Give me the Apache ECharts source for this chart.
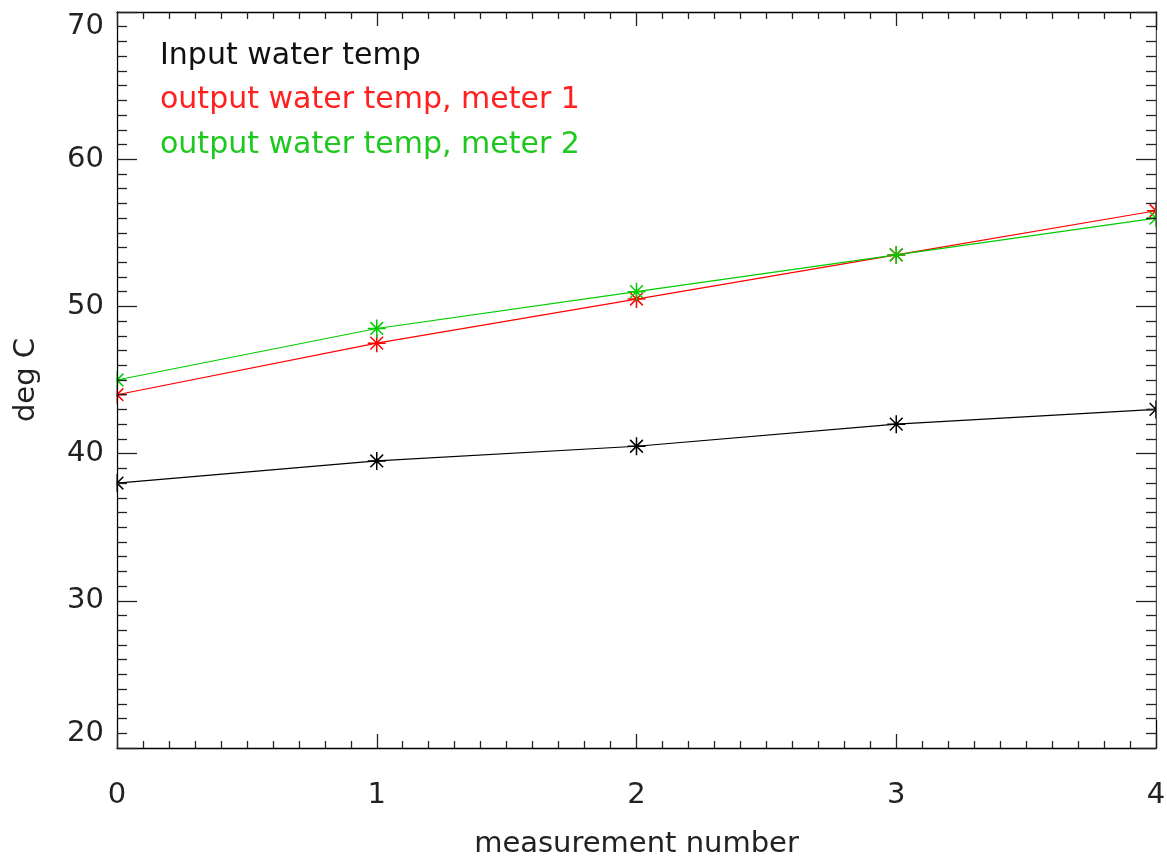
<!DOCTYPE html>
<html>
<head>
<meta charset="utf-8">
<script src="https://cdn.jsdelivr.net/npm/echarts@6/dist/echarts.min.js"></script>
<style>html,body{margin:0;padding:0;background:#fff}#c{width:1167px;height:858px}</style>
</head>
<body>
<div id="c"></div>
<script>
const xValues = [0, 1, 2, 3, 4];
const inputTemp = [38, 39.5, 40.5, 42, 43];
const meter1Temp = [44, 47.5, 50.5, 53.5, 56.5];
const meter2Temp = [45, 48.5, 51, 53.5, 56];
const seriesNames = ['Input water temp', 'output water temp, meter 1', 'output water temp, meter 2'];
const seriesColors = ['#000000', '#ff0000', '#00cc00'];
const legendColors = ['#111111', '#ff2020', '#1ec81e'];
const xTitle = 'measurement number';
const yTitle = 'deg C';

const FONT = 'DejaVu Sans';
const FS = 29;
const star = 'path://M0,-10L0,10M-10,0L10,0M-7.07,-7.07L7.07,7.07M-7.07,7.07L7.07,-7.07';

function axisBase(isX, show) {
  return {
    type: 'value',
    min: isX ? 0 : 20,
    max: isX ? 4 : 70,
    interval: isX ? 1 : 10,
    z: 5,
    axisLine: { show: true, onZero: false, lineStyle: { color: '#000', width: 1.3 } },
    axisTick: { show: true, inside: true, length: isX ? 14 : 20, lineStyle: { color: '#222', width: 1.3 } },
    minorTick: { show: true, splitNumber: 10, length: isX ? 7 : 10, lineStyle: { color: '#222', width: 1.3 } },
    splitLine: { show: false },
    minorSplitLine: { show: false },
    axisLabel: {
      show: show, color: '#222', fontFamily: FONT, fontSize: FS, margin: isX ? 33 : 13,
      verticalAlignMinLabel: isX ? undefined : 'bottom',
      verticalAlignMaxLabel: isX ? undefined : 'top'
    }
  };
}

const data = [inputTemp, meter1Temp, meter2Temp];
const series = data.map((vals, i) => ({
  name: seriesNames[i],
  type: 'line',
  data: xValues.map((x, j) => [x, vals[j]]),
  symbol: star,
  symbolSize: 18,
  showSymbol: true,
  clip: true,
  lineStyle: { color: seriesColors[i], width: 1.2 },
  itemStyle: { color: 'none', borderColor: seriesColors[i], borderWidth: 1.5 },
  emphasis: { disabled: true },
  animation: false
}));

// white masks just outside the plot frame so edge markers appear clipped
const masks = [
  { type: 'rect', shape: { x: 105, y: 30, width: 11.3, height: 690 }, style: { fill: '#fff' }, zlevel: 1, z: 100, silent: true },
  { type: 'rect', shape: { x: 1156.7, y: 30, width: 11, height: 690 }, style: { fill: '#fff' }, zlevel: 1, z: 100, silent: true }
];

const chart = echarts.init(document.getElementById('c'), null, { renderer: 'canvas' });
chart.setOption({
  backgroundColor: '#fff',
  animation: false,
  grid: { left: 117, top: 12, right: 11, bottom: 110, containLabel: false, outerBoundsMode: 'none' },
  xAxis: [
    Object.assign(axisBase(true, true), {
      position: 'bottom',
      name: xTitle, nameLocation: 'middle', nameGap: 82,
      nameTextStyle: { color: '#222', fontFamily: FONT, fontSize: FS }
    }),
    Object.assign(axisBase(true, false), { position: 'top' })
  ],
  yAxis: [
    Object.assign(axisBase(false, true), {
      position: 'left',
      name: yTitle, nameLocation: 'middle', nameGap: 76, nameRotate: 90,
      nameTextStyle: { color: '#222', fontFamily: FONT, fontSize: FS }
    }),
    Object.assign(axisBase(false, false), { position: 'right' })
  ],
  series: series,
  graphic: masks.concat(seriesNames.map((n, i) => ({
    type: 'text',
    left: 160,
    top: 58 + i * 44.5 - 17,
    style: { text: n, fill: legendColors[i], font: '30px ' + FONT }
  })))
});
</script>
</body>
</html>
